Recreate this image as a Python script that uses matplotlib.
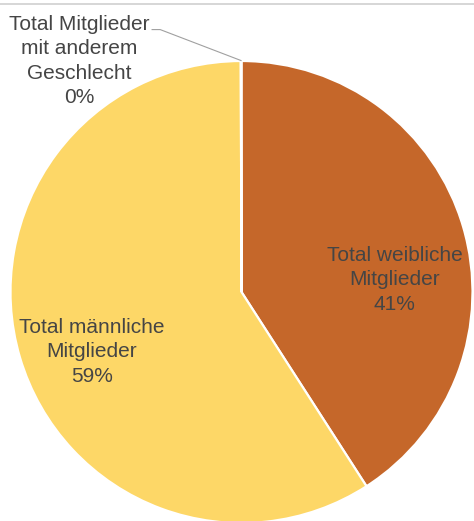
"""Mitglieder nach Geschlecht - pie chart."""
import matplotlib.pyplot as plt
from matplotlib.lines import Line2D

# data (share of members, %)
labels = ["Total weibliche\nMitglieder", "Total männliche\nMitglieder",
          "Total Mitglieder\nmit anderem\nGeschlecht"]
shares = [40.9, 59.05, 0.05]
colors = ["#C5672A", "#FDD767", "#A9A9A9"]

plt.rcParams["font.family"] = ["Liberation Sans", "DejaVu Sans"]

fig = plt.figure(figsize=(4.74, 5.21), dpi=100)
ax = fig.add_axes([10 / 474, -2 / 521, 463 / 474, 462 / 521])

wedges, _ = ax.pie(shares, colors=colors, startangle=90, counterclock=False,
                   wedgeprops=dict(edgecolor="white", linewidth=1.6))
ax.set_xlim(-1, 1)
ax.set_ylim(-1, 1)

text_kw = dict(ha="center", va="center", fontsize=15, color="#454545", linespacing=1.36)
pct = [f"{round(s):.0f}%" for s in shares]
ax.text(0.663, 0.052, labels[0] + "\n" + pct[0], **text_kw)
ax.text(-0.648, -0.259, labels[1] + "\n" + pct[1], **text_kw)
ax.text(-0.704, 1.0, labels[2] + "\n" + pct[2], **text_kw)

# leader line for the tiny slice
ax.plot([-0.387, -0.352, -0.002], [1.136, 1.136, 1.002], color="#A0A0A0",
        linewidth=0.8, clip_on=False)

# thin grey rule along the top
fig.add_artist(Line2D([0, 1], [1 - 3.5 / 521, 1 - 3.5 / 521], color="#D0D0D0", linewidth=1.2))

fig.savefig("out.png", dpi=100)
